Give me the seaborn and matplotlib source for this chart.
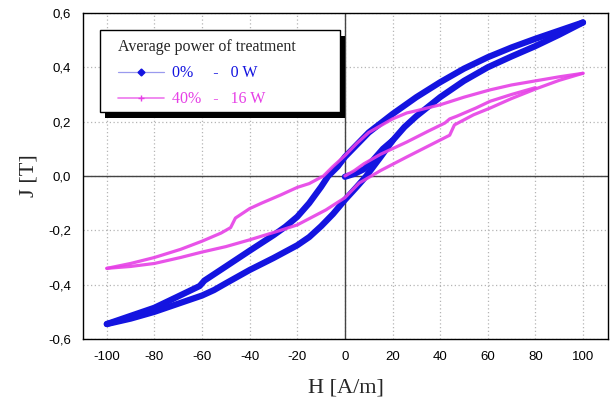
import numpy as np
import pandas as pd
import seaborn as sns
import matplotlib.pyplot as plt
from matplotlib.lines import Line2D
from matplotlib.patches import Rectangle
from matplotlib.ticker import MultipleLocator, FuncFormatter

# 0 % treatment - descending branch, ascending branch, initial curve
blue_down_H = [100, 90, 80, 70, 60, 50, 40, 30, 20, 10, 5, 0, -3, -7, -10, -15, -20, -25, -30, -40, -50, -59, -61, -70, -80, -90, -100]
blue_down_J = [0.565, 0.535, 0.505, 0.473, 0.437, 0.395, 0.345, 0.29, 0.228, 0.16, 0.115, 0.07, 0.035, 0.0, -0.04, -0.10, -0.15, -0.187, -0.218, -0.275, -0.333, -0.385, -0.405, -0.443, -0.485, -0.515, -0.545]
blue_up_H = [-100, -90, -80, -70, -60, -55, -50, -40, -30, -20, -15, -10, -5, 0, 5, 9, 15, 20, 25, 30, 40, 50, 60, 70, 80, 90, 100]
blue_up_J = [-0.545, -0.525, -0.50, -0.47, -0.44, -0.42, -0.395, -0.346, -0.302, -0.255, -0.225, -0.185, -0.14, -0.088, -0.04, 0.0, 0.07, 0.13, 0.18, 0.22, 0.29, 0.35, 0.40, 0.44, 0.478, 0.52, 0.565]
blue_init_H = [0, 4, 8, 12, 16, 20]
blue_init_J = [-0.003, 0.008, 0.025, 0.06, 0.10, 0.13]

# 40 % treatment
mag_down_H = [100, 90, 80, 70, 61, 50, 40, 30, 26, 20, 10, 5, 0, -5, -9, -15, -20, -27, -35, -40, -46, -48, -52, -60, -69, -80, -90, -100]
mag_down_J = [0.378, 0.365, 0.35, 0.335, 0.317, 0.29, 0.262, 0.24, 0.232, 0.21, 0.16, 0.12, 0.075, 0.035, 0.0, -0.028, -0.042, -0.07, -0.10, -0.12, -0.155, -0.19, -0.21, -0.24, -0.27, -0.30, -0.322, -0.34]
mag_up_H = [-100, -90, -80, -69, -60, -50, -40, -27, -20, -8, 0, 6, 15, 26, 35, 44, 46, 54, 61, 70, 80, 90, 100]
mag_up_J = [-0.34, -0.333, -0.322, -0.30, -0.28, -0.26, -0.235, -0.20, -0.18, -0.125, -0.08, -0.026, 0.02, 0.07, 0.11, 0.15, 0.188, 0.225, 0.25, 0.285, 0.32, 0.352, 0.378]
mag_init_H = [0, 4, 8, 15, 26, 35, 42, 44, 47, 55, 61, 70, 80]
mag_init_J = [0.0, 0.02, 0.045, 0.08, 0.125, 0.165, 0.195, 0.21, 0.22, 0.25, 0.275, 0.30, 0.325]

legend_title = "Average power of treatment"
labels = ["0%     -   0 W", "40%   -   16 W"]
blue = "#1414e0"
magenta = "#e640e6"

sns.set_style("white")
plt.rcParams['font.family'] = ['Liberation Sans', 'DejaVu Sans']
plt.rcParams['axes.unicode_minus'] = False

fig = plt.figure(figsize=(6.15, 4.05), dpi=100)
ax = fig.add_axes([0.135, 0.163, 0.8536, 0.805])

for H, J in [(blue_down_H, blue_down_J), (blue_up_H, blue_up_J), (blue_init_H, blue_init_J)]:
    sns.lineplot(x=H, y=J, ax=ax, sort=False, estimator=None, color=blue, lw=4.5,
                 solid_capstyle='round', solid_joinstyle='round', zorder=3)
for H, J in [(mag_down_H, mag_down_J), (mag_up_H, mag_up_J), (mag_init_H, mag_init_J)]:
    sns.lineplot(x=H, y=J, ax=ax, sort=False, estimator=None, color=magenta, lw=2.3,
                 alpha=0.9, solid_capstyle='round', solid_joinstyle='round', zorder=4)

ax.axhline(0, color='#444444', lw=1.0, zorder=2)
ax.axvline(0, color='#444444', lw=1.0, zorder=2)

ax.set_xlim(-110, 110.5)
ax.set_ylim(-0.6, 0.6)
ax.xaxis.set_major_locator(MultipleLocator(20))
ax.xaxis.set_minor_locator(MultipleLocator(10))
ax.yaxis.set_major_locator(MultipleLocator(0.2))
ax.yaxis.set_minor_locator(MultipleLocator(0.1))
ax.yaxis.set_major_formatter(FuncFormatter(lambda v, p: f"{v:.1f}".replace('.', ',')))
ax.xaxis.set_major_formatter(FuncFormatter(lambda v, p: f"{v:.0f}"))
ax.grid(True, which='major', color='#b5b5b5', ls=(0, (1, 2)), lw=0.9)
ax.tick_params(which='both', direction='out', top=False, right=False, labelsize=9.5, colors='black')
ax.tick_params(which='major', length=5, width=1)
ax.tick_params(which='minor', length=3, width=1)
for s in ax.spines.values():
    s.set_color('black')
    s.set_linewidth(1.0)

ax.set_xlabel("H [A/m]", family='Liberation Serif', fontsize=16, labelpad=11)
ax.set_ylabel("J [T]", family='Liberation Serif', fontsize=16, labelpad=7)

# legend without its own frame; frame and shadow are drawn as patches
handles = [Line2D([], [], color='#9a9aee', lw=0.9, marker='D', markersize=3.5,
                  markerfacecolor=blue, markeredgecolor=blue),
           Line2D([], [], color='#ee77ee', lw=1.2, marker='+', markersize=4,
                  markeredgecolor=magenta)]
leg = ax.legend(handles, labels, title=legend_title, loc='upper left',
                bbox_to_anchor=(0.0667, 0.921), borderaxespad=0, frameon=False,
                prop={'family': 'Liberation Serif', 'size': 11.5},
                title_fontproperties={'family': 'Liberation Serif', 'size': 11.5},
                alignment='left', handlelength=2.9, handletextpad=0.5,
                labelspacing=0.65, borderpad=0)
for t, c in zip(leg.get_texts(), [blue, magenta]):
    t.set_color(c)
leg.set_zorder(7)

box_x0, box_y0, box_w, box_h = 0.0324, 0.696, 0.457, 0.252
ax.add_patch(Rectangle((box_x0 + 5 / 525, box_y0 - 6 / 326), box_w, box_h, transform=ax.transAxes,
                       facecolor='black', edgecolor='none', zorder=5.5, clip_on=False))
ax.add_patch(Rectangle((box_x0, box_y0), box_w, box_h, transform=ax.transAxes,
                       facecolor='white', edgecolor='black', lw=1.0, zorder=6, clip_on=False))

fig.savefig("out.png", dpi=100)
